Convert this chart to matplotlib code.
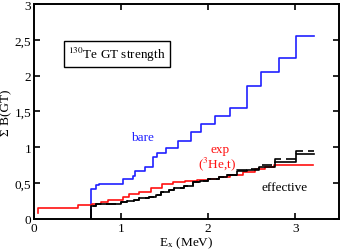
import numpy as np
import matplotlib
matplotlib.use("Agg")
import matplotlib.pyplot as plt
from matplotlib.ticker import FuncFormatter

plt.rcParams['font.family'] = ['Liberation Serif', 'DejaVu Serif']
plt.rcParams['mathtext.fontset'] = 'stix'

# step edges (MeV) and cumulative strength
bare_e = [0.65, 0.65, 0.71, 0.75, 1.02, 1.14, 1.16, 1.27, 1.37, 1.41, 1.51, 1.65, 1.80,
          1.92, 2.08, 2.25, 2.44, 2.61, 2.81, 3.01, 3.21]
bare_b = [0.0, 0.42, 0.47, 0.49, 0.55, 0.60, 0.67, 0.72, 0.86, 0.92, 0.99, 1.09, 1.21,
          1.32, 1.43, 1.55, 1.86, 2.05, 2.25, 2.55, 2.55]

exp_e = [0.04, 0.04, 0.50, 0.66, 0.77, 0.85, 1.02, 1.09, 1.21, 1.34, 1.47, 1.60, 1.73,
         1.87, 2.00, 2.12, 2.25, 2.40, 2.54, 2.65, 2.75, 3.20]
exp_b = [0.08, 0.15, 0.19, 0.21, 0.24, 0.27, 0.31, 0.35, 0.38, 0.43, 0.49, 0.51, 0.53,
         0.54, 0.56, 0.58, 0.61, 0.65, 0.69, 0.72, 0.75, 0.75]

eff_e = [0.65, 0.65, 0.71, 1.00, 1.07, 1.15, 1.21, 1.32, 1.40, 1.46, 1.55, 1.61, 1.72,
         1.82, 1.91, 2.00, 2.12, 2.22, 2.33, 2.44, 2.58, 2.77, 3.01, 3.22]
eff_b = [0.0, 0.18, 0.21, 0.23, 0.25, 0.27, 0.29, 0.31, 0.34, 0.37, 0.41, 0.43, 0.46,
         0.51, 0.53, 0.56, 0.58, 0.61, 0.67, 0.68, 0.72, 0.79, 0.91, 0.91]
eff2_b = [0.0, 0.18, 0.21, 0.23, 0.25, 0.27, 0.29, 0.31, 0.34, 0.37, 0.41, 0.43, 0.46,
          0.51, 0.53, 0.56, 0.58, 0.61, 0.68, 0.70, 0.75, 0.83, 0.95, 0.95]

fig = plt.figure(figsize=(3.44, 2.51), dpi=100)
ax = fig.add_axes([0.099, 0.124, 0.886, 0.856])

ax.step(bare_e, bare_b, where='post', color='#2020ff', lw=1.2)
ax.step(exp_e, exp_b, where='post', color='#ff1010', lw=1.2)
ax.step(eff_e, eff2_b, where='post', color='black', lw=1.2, ls=(0, (6, 3)))
ax.step(eff_e, eff_b, where='post', color='black', lw=1.2)

ax.set_xlim(0, 3.5)
ax.set_ylim(0, 3)
ax.set_xticks([0, 1, 2, 3])
ax.set_yticks(np.arange(0, 3.01, 0.5))
ax.yaxis.set_major_formatter(FuncFormatter(lambda v, p: ('%g' % v).replace('.', ',')))
ax.tick_params(direction='in', length=4, width=1.2, top=True, right=True,
               labelsize=9.5, pad=2)
for s in ax.spines.values():
    s.set_linewidth(1.4)

ax.set_xlabel('E$_{\\rm x}$ (MeV)', fontsize=9.5, labelpad=1)
ax.set_ylabel('Σ B(GT)', fontsize=9.5, labelpad=2)

ax.text(1.24, 1.14, 'bare', color='#2020ff', fontsize=9.5, ha='center', va='center')
ax.text(2.14, 0.98, 'exp', color='#ff1010', fontsize=9.5, ha='center', va='center')
ax.text(2.10, 0.77, '($^{3}$He,t)', color='#ff1010', fontsize=9.5, ha='center', va='center')
ax.text(2.88, 0.45, 'effective', color='black', fontsize=9.5, ha='center', va='center')
ax.text(0.95, 2.30, '$^{130}$Te GT strength', fontsize=9.5, ha='center', va='center',
        bbox=dict(boxstyle='square,pad=0.3', fc='white', ec='black', lw=1.0))

fig.savefig('out.png', dpi=100)
